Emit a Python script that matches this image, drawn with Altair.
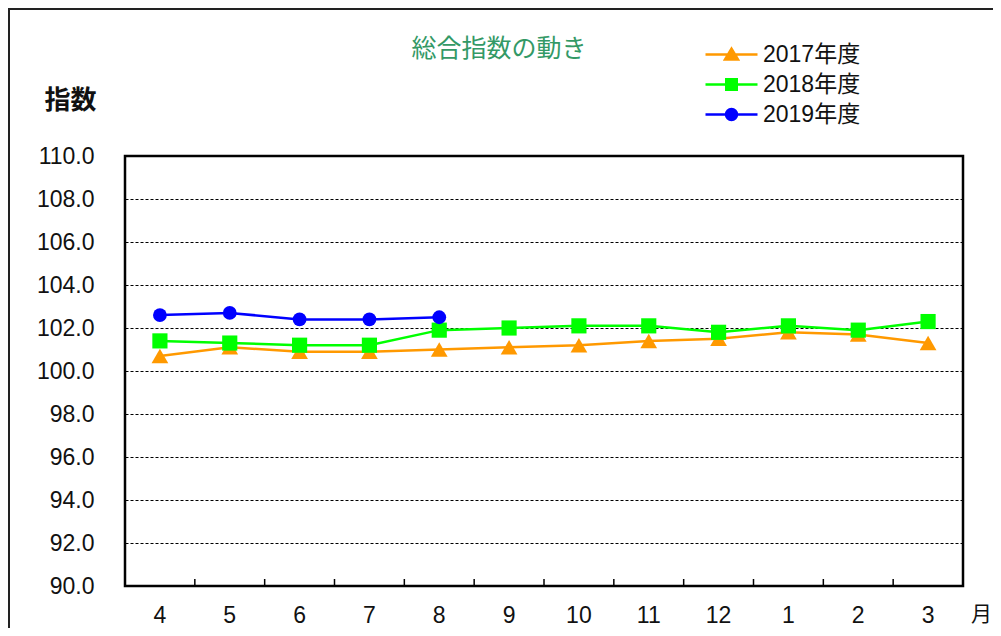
import altair as alt
import pandas as pd

months = ["4", "5", "6", "7", "8", "9", "10", "11", "12", "1", "2", "3"]
series_names = ["2017年度", "2018年度", "2019年度"]
v2017 = [100.7, 101.1, 100.9, 100.9, 101.0, 101.1, 101.2, 101.4, 101.5, 101.8, 101.7, 101.3]
v2018 = [101.4, 101.3, 101.2, 101.2, 101.9, 102.0, 102.1, 102.1, 101.8, 102.1, 101.9, 102.3]
v2019 = [102.6, 102.7, 102.4, 102.4, 102.5]
y_ticks = [90.0, 92.0, 94.0, 96.0, 98.0, 100.0, 102.0, 104.0, 106.0, 108.0, 110.0]

colors = ["#FF9900", "#00FF00", "#0000FF"]
marker_shapes = ["triangle-up", "square", "circle"]
marker_sizes = [280, 230, 190]
legend_paths = [
    "M-5.2,0H5.2M0,-1.15L1.3,1.0L-1.3,1.0Z",
    "M-5.2,0H5.2M-1.05,-1.05H1.05V1.05H-1.05Z",
    "M-5.2,0H5.2M1.1,0A1.1,1.1,0,1,1,-1.1,0A1.1,1.1,0,1,1,1.1,0Z",
]

rows = []
for name, vals in zip(series_names, [v2017, v2018, v2019]):
    for m, v in zip(months, vals):
        rows.append({"month": m, "value": v, "series": name})
df = pd.DataFrame(rows)
bounds = pd.DataFrame({"month": months[1:]})

NUM_FONT = "Liberation Sans, Arial"
W, H = 838, 430

xscale = alt.Scale(type="band", domain=months, paddingInner=0, paddingOuter=0)
xaxis = alt.Axis(
    title="月", titleAngle=0, titleX=856, titleY=28, titleAlign="center",
    titleBaseline="middle", titleFont="Noto Sans CJK JP", titleFontSize=21,
    titleFontWeight="normal", titleColor="#111",
    labelFont=NUM_FONT, labelFontSize=23, labelColor="#111", labelPadding=18,
    labelAngle=0, ticks=False, tickSize=0, domain=False, grid=False,
)
X = alt.X("month:N", sort=months, scale=xscale, axis=xaxis)
yscale = alt.Scale(domain=[90, 110], nice=False, zero=False)
yaxis = alt.Axis(
    values=y_ticks, format=".1f", title="指数", titleAngle=0, titleX=-55, titleY=-56,
    titleAlign="center", titleBaseline="middle", titleFont="Noto Sans CJK JP",
    titleFontSize=26, titleFontWeight="bold", titleColor="#111",
    labelFont=NUM_FONT, labelFontSize=23, labelColor="#111", labelPadding=31,
    ticks=False, tickSize=0, domain=False, grid=True, gridColor="black",
    gridDash=[3, 2], gridWidth=1,
)
Y = alt.Y("value:Q", scale=yscale, axis=yaxis)

base = alt.Chart(df)

layers = []
# outer frame (decoration)
layers.append(base.mark_rule(color="#222", strokeWidth=2).encode(
    x=alt.value(-116), y=alt.value(-147), y2=alt.value(480)))
layers.append(base.mark_rule(color="#222", strokeWidth=2).encode(
    x=alt.value(-117), x2=alt.value(868), y=alt.value(-147)))
# inward x ticks at band boundaries
layers.append(alt.Chart(bounds).mark_rule(color="black", strokeWidth=1.5).encode(
    x=alt.X("month:N", sort=months, scale=xscale, axis=xaxis, bandPosition=0),
    y=alt.value(H - 7), y2=alt.value(H)))

for name, c, shp, sz in zip(series_names, colors, marker_shapes, marker_sizes):
    sub = base.transform_filter(alt.datum.series == name)
    layers.append(sub.mark_line(color=c, strokeWidth=2.5).encode(x=X, y=Y))
    layers.append(sub.mark_point(shape=shp, filled=True, size=sz, color=c, opacity=1,
                                 strokeWidth=0).encode(x=X, y=Y))

leg = alt.Legend(
    title=None, orient="none", legendX=595, legendY=-113, symbolSize=100,
    symbolStrokeWidth=2.5, labelOffset=20, labelFont="Liberation Sans, Noto Sans CJK JP",
    labelFontSize=23, labelColor="#111", rowPadding=6, padding=0, symbolOpacity=1,
)
layers.append(base.mark_point(clip=True, filled=False, opacity=1).encode(
    x=X, y=alt.value(-400),
    shape=alt.Shape("series:N", scale=alt.Scale(domain=series_names, range=legend_paths), legend=leg),
    fill=alt.Fill("series:N", scale=alt.Scale(domain=series_names, range=colors), legend=leg),
    stroke=alt.Stroke("series:N", scale=alt.Scale(domain=series_names, range=colors), legend=leg),
))

chart = alt.layer(*layers).properties(
    width=W, height=H,
    title=alt.TitleParams("総合指数の動き", anchor="middle", frame="group", dx=-45,
                          offset=0, dy=79, font="Noto Sans CJK JP", fontSize=25,
                          fontWeight="normal", color="#339966", baseline="bottom"),
    autosize=alt.AutoSizeParams(type="none"),
    padding={"left": 117, "top": 148, "right": 30, "bottom": 42},
    background="white",
).configure_view(stroke="black", strokeWidth=2.5)

chart.save("out.html", embed_options={"renderer": "svg", "actions": False})
